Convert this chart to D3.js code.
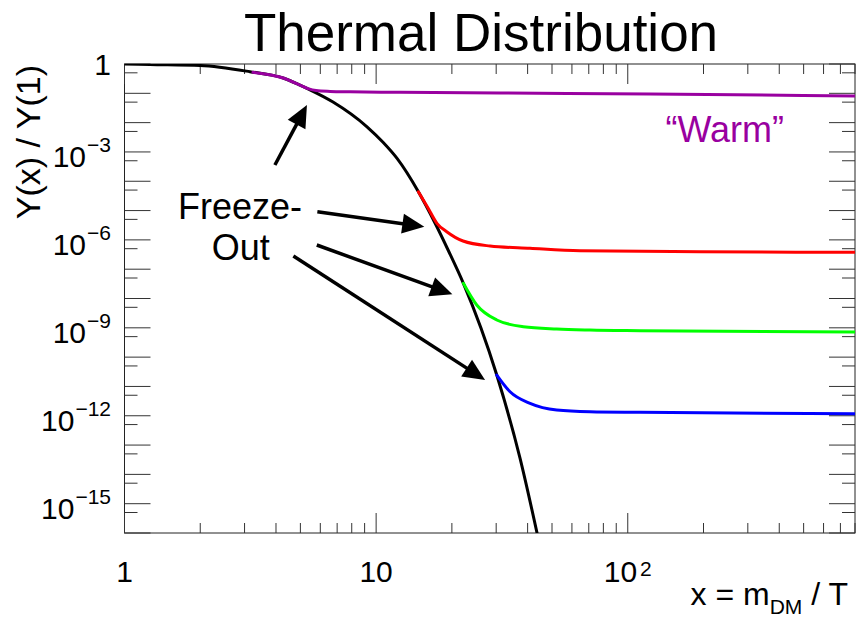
<!DOCTYPE html>
<html>
<head>
<meta charset="utf-8">
<script src="https://cdn.jsdelivr.net/npm/d3@7"></script>
<style>
  body { margin: 0; background: #fff; }
  svg { display: block; }
  text { font-family: "Liberation Sans", Arial, Helvetica, sans-serif; }
</style>
</head>
<body>
<svg id="chart" width="857" height="617"></svg>
<script>
// Equilibrium abundance (black)
const eqX = [1, 1.26, 2.0, 3.15, 4.27, 4.98, 5.46, 6.74, 9.2, 10.65, 12.11, 14.72, 17.14, 19.36, 22.22, 30.16, 37.33, 43.6];
const eqY = [1, 0.96, 0.89, 0.546, 0.333, 0.1905, 0.1318, 0.0505, 7.20e-3, 2.13e-3, 6.01e-4, 4.40e-5, 3.76e-6, 4.34e-7, 3.30e-8, 2.45e-11, 3.52e-14, 1e-16];

// Relic abundances after freeze-out
const warmX = [3.24, 4.27, 4.98, 5.36, 5.77, 6.56, 7.88, 12.45, 31.1, 122.6, 800];
const warmY = [0.521, 0.333, 0.1905, 0.1448, 0.1238, 0.1162, 0.1126, 0.1083, 0.1025, 0.0947, 0.0809];

const redX = [14.72, 16.08, 17.44, 19.08, 22.15, 28.36, 40.9, 64.6, 193.8, 800];
const redY = [4.40e-5, 1.22e-5, 3.67e-6, 1.90e-6, 9.14e-7, 6.17e-7, 5.15e-7, 4.27e-7, 3.95e-7, 3.77e-7];

const greenX = [22.22, 25.11, 30.16, 38.46, 52.2, 70.8, 111.9, 800];
const greenY = [3.30e-8, 6.0e-9, 1.85e-9, 1.09e-9, 9.1e-10, 8.4e-10, 7.96e-10, 7.18e-10];

const blueX = [30.16, 34.06, 40.9, 52.2, 70.8, 111.9, 800];
const blueY = [2.45e-11, 6.6e-12, 2.65e-12, 1.57e-12, 1.37e-12, 1.31e-12, 1.17e-12];

// Axis ticks and labels
const xMajorTicks = [1, 10, 100];
const xMinorTicks = [2, 3, 4, 5, 6, 7, 8, 9, 20, 30, 40, 50, 60, 70, 80, 90, 200, 300, 400, 500, 600, 700, 800];
const xLabelExps = [0, 1, 2];
const yMajorExps = [0, -1, -2, -3, -4, -5, -6, -7, -8, -9, -10, -11, -12, -13, -14, -15, -16];
const yMinorTicks = [5e-1, 5e-2, 5e-3, 5e-4, 5e-5, 5e-6, 5e-7, 5e-8, 5e-9, 5e-10, 5e-11, 5e-12, 5e-13, 5e-14, 5e-15, 5e-16];
const yLabelExps = [0, -3, -6, -9, -12, -15];

// Freeze-out arrows: tail and tip positions in data units
const arrowFromX = [3.96, 5.84, 5.81, 4.69];
const arrowFromY = [3.58e-4, 9.14e-6, 6.68e-7, 2.81e-7];
const arrowToX = [5.31, 15.54, 20.09, 27.1];
const arrowToY = [0.0399, 2.81e-6, 1.39e-8, 1.66e-11];

const titleText = "Thermal Distribution";
const purple = "#9900a0";

const svg = d3.select("#chart");
const W = 857, H = 617;
const plot = { left: 124.5, right: 855, top: 64, bottom: 533 };

svg.append("rect").attr("width", W).attr("height", H).attr("fill", "#fff");

const x = d3.scaleLog().domain([1, 800]).range([plot.left, plot.right]);
const y = d3.scaleLog().domain([1e-16, 1]).range([plot.bottom, plot.top]);

svg.append("defs").append("clipPath").attr("id", "plotClip")
  .append("rect")
  .attr("x", plot.left).attr("y", plot.top)
  .attr("width", plot.right - plot.left).attr("height", plot.bottom - plot.top);

// Frame
svg.append("rect")
  .attr("x", plot.left).attr("y", plot.top)
  .attr("width", plot.right - plot.left).attr("height", plot.bottom - plot.top)
  .attr("fill", "none").attr("stroke", "#222").attr("stroke-width", 1);

// Ticks on all four sides
const ticks = svg.append("g").attr("stroke", "#333").attr("stroke-width", 1);
function xTick(v, len) {
  ticks.append("line").attr("x1", x(v)).attr("x2", x(v)).attr("y1", plot.bottom).attr("y2", plot.bottom - len);
  ticks.append("line").attr("x1", x(v)).attr("x2", x(v)).attr("y1", plot.top).attr("y2", plot.top + len);
}
function yTick(v, len) {
  ticks.append("line").attr("y1", y(v)).attr("y2", y(v)).attr("x1", plot.left).attr("x2", plot.left + len);
  ticks.append("line").attr("y1", y(v)).attr("y2", y(v)).attr("x1", plot.right).attr("x2", plot.right - len);
}
xMajorTicks.forEach(v => xTick(v, 20));
xMinorTicks.forEach(v => xTick(v, 10));
yMajorExps.forEach(e => yTick(Math.pow(10, e), 26));
yMinorTicks.forEach(v => yTick(v, 13));

// Tick labels
const labels = svg.append("g").attr("fill", "#000");
yLabelExps.forEach(e => {
  const t = labels.append("text")
    .attr("x", 111)
    .attr("y", y(Math.pow(10, e)) + (e === 0 ? 11 : 15))
    .attr("text-anchor", "end")
    .attr("font-size", 30);
  if (e === 0) {
    t.text("1");
  } else {
    t.append("tspan").text("10");
    t.append("tspan").attr("font-size", 21).attr("dy", -15).attr("dx", 1).text("\u2212" + (-e));
  }
});
xLabelExps.forEach(e => {
  const t = labels.append("text")
    .attr("x", x(Math.pow(10, e)))
    .attr("y", 582)
    .attr("text-anchor", "middle")
    .attr("font-size", 30);
  if (e === 0) t.text("1");
  else if (e === 1) t.text("10");
  else {
    t.append("tspan").text("10");
    t.append("tspan").attr("font-size", 21).attr("dy", -6).attr("dx", 3).text(String(e));
  }
});

// Axis titles
const xt = svg.append("text")
  .attr("x", 848).attr("y", 605)
  .attr("text-anchor", "end")
  .attr("font-size", 32);
xt.append("tspan").text("x = m");
xt.append("tspan").attr("font-size", 21).attr("dy", 9).text("DM");
xt.append("tspan").attr("dy", -9).text(" / T");

svg.append("text")
  .attr("transform", "translate(40,65) rotate(-90)")
  .attr("text-anchor", "end")
  .attr("font-size", 34)
  .text("Y(x) / Y(1)");

// Title
svg.append("text")
  .attr("x", 481).attr("y", 50.5)
  .attr("text-anchor", "middle")
  .attr("font-size", 53)
  .text(titleText);

// Curves
const line = d3.line()
  .x(d => x(d[0]))
  .y(d => y(d[1]))
  .curve(d3.curveMonotoneX);

const curves = svg.append("g").attr("clip-path", "url(#plotClip)")
  .attr("fill", "none").attr("stroke-linejoin", "round").attr("stroke-linecap", "round");

function drawCurve(xs, ys, color) {
  curves.append("path")
    .attr("d", line(xs.map((v, i) => [v, ys[i]])))
    .attr("stroke", color)
    .attr("stroke-width", 3);
}
drawCurve(eqX, eqY, "#000");
drawCurve(warmX, warmY, purple);
drawCurve(redX, redY, "#ff0000");
drawCurve(greenX, greenY, "#00ff00");
drawCurve(blueX, blueY, "#0000ff");

// Annotations
svg.append("text")
  .attr("x", x(243)).attr("y", y(2.23e-3))
  .attr("text-anchor", "middle")
  .attr("font-size", 36)
  .attr("fill", purple)
  .text("\u201CWarm\u201D");

svg.append("text")
  .attr("x", x(2.88)).attr("y", y(5.0e-6))
  .attr("text-anchor", "middle")
  .attr("font-size", 36)
  .text("Freeze-");
svg.append("text")
  .attr("x", x(2.9)).attr("y", y(2.06e-7))
  .attr("text-anchor", "middle")
  .attr("font-size", 36)
  .text("Out");

const arrows = svg.append("g");
arrowFromX.forEach((fx, i) => {
  const x0 = x(fx), y0 = y(arrowFromY[i]);
  const x1 = x(arrowToX[i]), y1 = y(arrowToY[i]);
  const dx = x1 - x0, dy = y1 - y0, L = Math.hypot(dx, dy);
  const ux = dx / L, uy = dy / L, nx = -uy, ny = ux;
  const headLen = 22, headHalf = 10;
  const bx = x1 - ux * headLen, by = y1 - uy * headLen;
  arrows.append("line")
    .attr("x1", x0).attr("y1", y0).attr("x2", bx + ux * 2).attr("y2", by + uy * 2)
    .attr("stroke", "#000").attr("stroke-width", 3.5);
  arrows.append("path")
    .attr("d", `M${x1},${y1}L${bx + nx * headHalf},${by + ny * headHalf}L${bx - nx * headHalf},${by - ny * headHalf}Z`)
    .attr("fill", "#000");
});
</script>
</body>
</html>
